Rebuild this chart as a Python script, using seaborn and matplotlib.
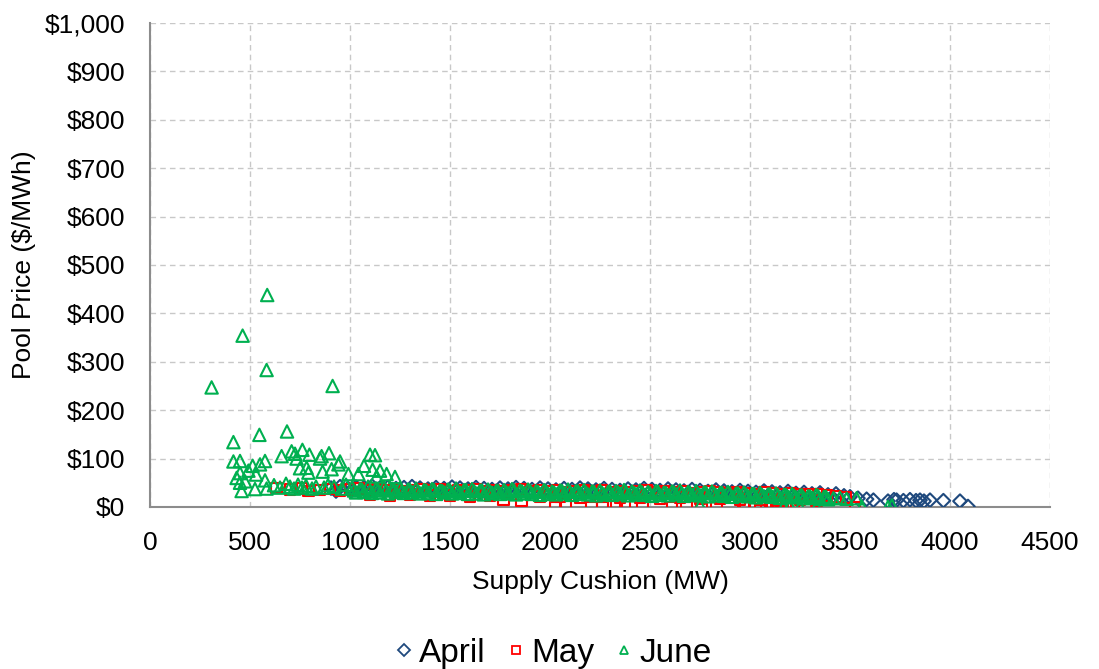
import matplotlib
matplotlib.use("Agg")
import matplotlib.pyplot as plt
import seaborn as sns
import pandas as pd
from matplotlib.lines import Line2D
from matplotlib.ticker import FuncFormatter, MultipleLocator

# ---------------- data ----------------
april_mw = [905, 950, 990, 1030, 1070, 1110, 1150, 1190, 1230, 1270, 1310, 1350, 1390, 1430,
            1470, 1510, 1550, 1590, 1630, 1670, 1710, 1750, 1790, 1830, 1870, 1910, 1950, 1990,
            2030, 2070, 2110, 2150, 2190, 2230, 2270, 2310, 2350, 2390, 2430, 2470, 2510, 2550,
            2590, 2630, 2670, 2710, 2750, 2790, 2830, 2870, 2910, 2950, 2990, 3030, 3070, 3110,
            3150, 3190, 3230, 3270, 3310, 3350, 3390, 3430, 3470, 3500, 3540, 3583, 3617, 3690,
            3720, 3733, 3767, 3800, 3830, 3850, 3870, 3900, 3967, 4050, 4090,
            930, 1010, 1090, 1170, 1250, 1330, 1410, 1490, 1570, 1650, 1730, 1810, 1890, 1970,
            2050, 2130, 2210, 2290, 2370, 2450, 2530, 2610, 2690, 2770, 2850, 2930, 3010, 3090,
            3170, 3250, 3330, 3410]
april_price = [39, 42, 38, 41, 40, 43, 39, 41, 38, 40, 42, 39, 37, 40,
               38, 41, 39, 37, 40, 38, 36, 39, 37, 40, 38, 36, 39, 37,
               35, 38, 36, 39, 37, 35, 38, 36, 34, 37, 35, 38, 36, 34,
               37, 35, 33, 36, 34, 32, 35, 33, 31, 34, 32, 30, 33, 31,
               29, 32, 28, 30, 27, 29, 25, 27, 23, 21, 18, 16, 14, 12,
               15, 14, 13, 15, 13, 14, 12, 14, 13, 12, 1,
               33, 35, 32, 34, 31, 33, 30, 32, 31, 29, 32, 30, 28, 31,
               29, 27, 30, 28, 26, 29, 27, 25, 28, 26, 24, 27, 25, 23,
               24, 22, 21, 20]

may_mw = [633, 700, 760, 792, 850, 900, 950, 1000, 1045, 1090, 1135, 1180, 1225, 1270,
          1315, 1360, 1405, 1450, 1495, 1540, 1585, 1630, 1675, 1720, 1765, 1810, 1855, 1900,
          1945, 1990, 2035, 2080, 2125, 2170, 2215, 2260, 2305, 2350, 2395, 2440, 2485, 2530,
          2575, 2620, 2665, 2710, 2755, 2800, 2845, 2890, 2935, 2980, 3025, 3070, 3115, 3160,
          3205, 3250, 3295, 3340, 3385, 3430, 3480,
          1100, 1200, 1300, 1400, 1500, 1600, 1700, 1767, 1858, 1950, 2050, 2150, 2250, 2350,
          2450, 2550, 2650, 2750, 2850, 2950, 3050, 3150, 3250, 3333,
          2025, 2080, 2208, 2262, 2333, 2375, 2462, 2610, 2683, 2758, 2833, 2967, 2975, 3050,
          3080, 3110, 3140, 3180, 3217, 3525]
may_price = [39, 36, 38, 33, 35, 37, 34, 36, 38, 35, 37, 34, 36, 33,
             35, 37, 34, 36, 33, 35, 34, 36, 33, 35, 32, 34, 36, 33,
             35, 32, 34, 31, 33, 35, 32, 34, 31, 33, 30, 32, 34, 31,
             33, 30, 32, 29, 31, 33, 30, 28, 31, 29, 27, 30, 28, 26,
             29, 27, 25, 27, 24, 22, 20,
             26, 24, 25, 23, 24, 22, 23, 15, 13, 22, 21, 20, 21, 19,
             20, 18, 19, 17, 18, 16, 15, 14, 16, 14,
             0, 5, 0, 0, 9, 8, 0, 0, 0, 0, 0, 0, 0, 3,
             1, 0, 2, 0, 4, 0]

june_mw = [586, 463, 583, 308, 913, 417, 547, 685, 417, 450, 575, 550, 513, 492,
           450, 433, 475, 450, 458, 530, 525, 575, 583, 658, 708, 725, 733, 762,
           797, 850, 858, 895, 950, 942, 908, 863, 750, 783, 792, 992, 1042, 1070,
           1100, 1125, 1113, 1150, 1183, 1225, 1133,
           620, 650, 680, 700, 720, 740, 760, 780, 810, 830, 870, 890, 920, 960, 980,
           1010, 1050, 1090, 1130, 1170, 1210, 1250, 1290, 1330, 1370, 1410, 1450, 1490, 1530,
           1570, 1610, 1650, 1690, 1730, 1770, 1810, 1850, 1890, 1930, 1970, 2010, 2050, 2090,
           2130, 2170, 2210, 2250, 2290, 2330, 2370, 2410, 2450, 2490, 2530, 2570, 2610, 2650,
           2690, 2730, 2770, 2810, 2850, 2890, 2930, 2970, 3010, 3050, 3090, 3130, 3170, 3210,
           3250, 3290, 3330, 3370, 3417, 3450, 3483, 3533,
           1030, 1070, 1110, 1150, 1190, 1230, 1270, 1310, 1350, 1390, 1430, 1470, 1510, 1550,
           1590, 1630, 1670, 1710, 1750, 1790, 1830, 1870, 1910, 1950, 1990, 2030, 2070, 2110,
           2150, 2190, 2230, 2270, 2310, 2350, 2390, 2430, 2470, 2510, 2550, 2590, 2630, 2670,
           2710, 2750, 2790, 2830, 2870, 2910, 2950, 2990, 3030, 3070, 3110, 3150, 3190, 3230,
           3270, 3310, 3350, 3390,
           1020, 1060, 1100, 1140, 1180, 1220, 1260, 1300, 1340, 1380,
           1420, 1460, 1500, 1540, 1580, 1620, 1660, 1700, 1740, 1780,
           1820, 1860, 1900, 1940, 1980, 2020, 2060, 2100, 2140, 2180,
           2220, 2260, 2300, 2340, 2380, 2420, 2460, 2500, 2540, 2580,
           2620, 2660, 2700, 2740, 2780, 2820, 2860, 2900, 2940, 2980,
           3020, 3060, 3100, 3140, 3180, 3220, 3260, 3300, 3340, 3380,
           2750, 3167, 3200, 3250, 3333, 3560, 3690, 3710]
june_price = [438, 354, 283, 247, 250, 134, 149, 156, 94, 95, 95, 88, 85, 75,
              70, 60, 53, 50, 33, 67, 37, 55, 38, 105, 115, 110, 100, 118,
              108, 100, 105, 111, 94, 88, 78, 73, 80, 81, 71, 68, 68, 85,
              108, 107, 77, 75, 68, 62, 63,
              45, 40, 48, 42, 38, 46, 40, 44, 38, 42, 40, 45, 42, 38, 46,
              40, 37, 42, 38, 41, 37, 39, 36, 38, 35, 37, 34, 36, 38,
              35, 37, 34, 36, 33, 35, 37, 34, 36, 33, 35, 32, 34, 36,
              33, 35, 32, 34, 31, 33, 35, 32, 34, 31, 33, 30, 32, 34,
              31, 33, 30, 32, 29, 31, 28, 30, 27, 29, 26, 28, 25, 27,
              24, 22, 25, 21, 18, 19, 17, 18,
              30, 31, 29, 30, 28, 31, 29, 30, 28, 29, 27, 30, 28, 29,
              27, 28, 26, 29, 27, 28, 26, 28, 27, 25, 27, 26, 28, 25,
              27, 26, 24, 26, 25, 27, 24, 26, 25, 23, 25, 24, 26, 23,
              25, 24, 22, 24, 23, 21, 23, 22, 20, 22, 21, 19, 21, 20,
              18, 19, 17, 16,
              34, 36, 33, 35, 34, 36, 33, 35, 32, 34,
              35, 33, 34, 32, 35, 33, 34, 32, 33, 31,
              34, 32, 33, 31, 32, 30, 33, 31, 32, 30,
              31, 29, 32, 30, 31, 29, 30, 28, 31, 29,
              30, 28, 29, 27, 30, 28, 29, 27, 28, 26,
              27, 25, 26, 24, 25, 23, 24, 22, 23, 21,
              3, 0, 2, 0, 0, 0, 0, 3]

series_names = ["April", "May", "June"]
x_ticks = [0, 500, 1000, 1500, 2000, 2500, 3000, 3500, 4000, 4500]

assert len(april_mw) == len(april_price), (len(april_mw), len(april_price))
assert len(may_mw) == len(may_price), (len(may_mw), len(may_price))
assert len(june_mw) == len(june_price), (len(june_mw), len(june_price))

frames = []
for name, xs, ys in zip(series_names, [april_mw, may_mw, june_mw],
                        [april_price, may_price, june_price]):
    frames.append(pd.DataFrame({"mw": xs, "price": ys, "month": name}))
df = pd.concat(frames, ignore_index=True)

# ---------------- style ----------------
sns.set_theme(style="white")
plt.rcParams["font.family"] = ["Liberation Sans", "DejaVu Sans"]
plt.rcParams["text.color"] = "black"
plt.rcParams["axes.labelcolor"] = "black"

colors = {"April": "#1F497D", "May": "#FF0000", "June": "#00B050"}
markers = {"April": "D", "May": "s", "June": "^"}
sizes = {"April": 48, "May": 60, "June": 80}

fig = plt.figure(figsize=(10.99, 6.69), dpi=100)
ax = fig.add_axes([0.1365, 0.2422, 0.8189, 0.7234])

for name in series_names:
    sub = df[df["month"] == name]
    sns.scatterplot(data=sub, x="mw", y="price", ax=ax, marker=markers[name],
                    s=sizes[name], facecolor="none", edgecolor=colors[name],
                    linewidth=1.5, legend=False, zorder=3)

ax.set_xlim(0, 4500)
ax.set_ylim(0, 1000)
ax.set_xticks(x_ticks)
ax.yaxis.set_major_locator(MultipleLocator(100))
ax.yaxis.set_major_formatter(FuncFormatter(lambda v, p: "${:,.0f}".format(v)))

ax.grid(True, color="#C8C8C8", linestyle=(0, (4, 3)), linewidth=1.0)
ax.set_axisbelow(True)
for side in ["top", "right"]:
    ax.spines[side].set_visible(False)
for side in ["left", "bottom"]:
    ax.spines[side].set_color("#8C8C8C")
    ax.spines[side].set_linewidth(1.5)

ax.tick_params(axis="both", which="major", labelsize=19, length=7, width=1.3,
               direction="out", pad=11, colors="#8C8C8C", labelcolor="black")
ax.tick_params(axis="x", pad=10)

ax.set_xlabel("Supply Cushion (MW)", fontsize=19, labelpad=11)
ax.set_ylabel("Pool Price ($/MWh)", fontsize=19, labelpad=6)

handles = [Line2D([0], [0], linestyle="none", marker=markers[n], markersize=6,
                  markerfacecolor="none", markeredgecolor=colors[n], markeredgewidth=1.3)
           for n in series_names]
fig.legend(handles, series_names, loc="center", bbox_to_anchor=(0.503, 0.023),
           ncol=3, frameon=False, fontsize=24, handlelength=0.6, handletextpad=0.15,
           columnspacing=0.6)

fig.savefig("out.png", dpi=100)
